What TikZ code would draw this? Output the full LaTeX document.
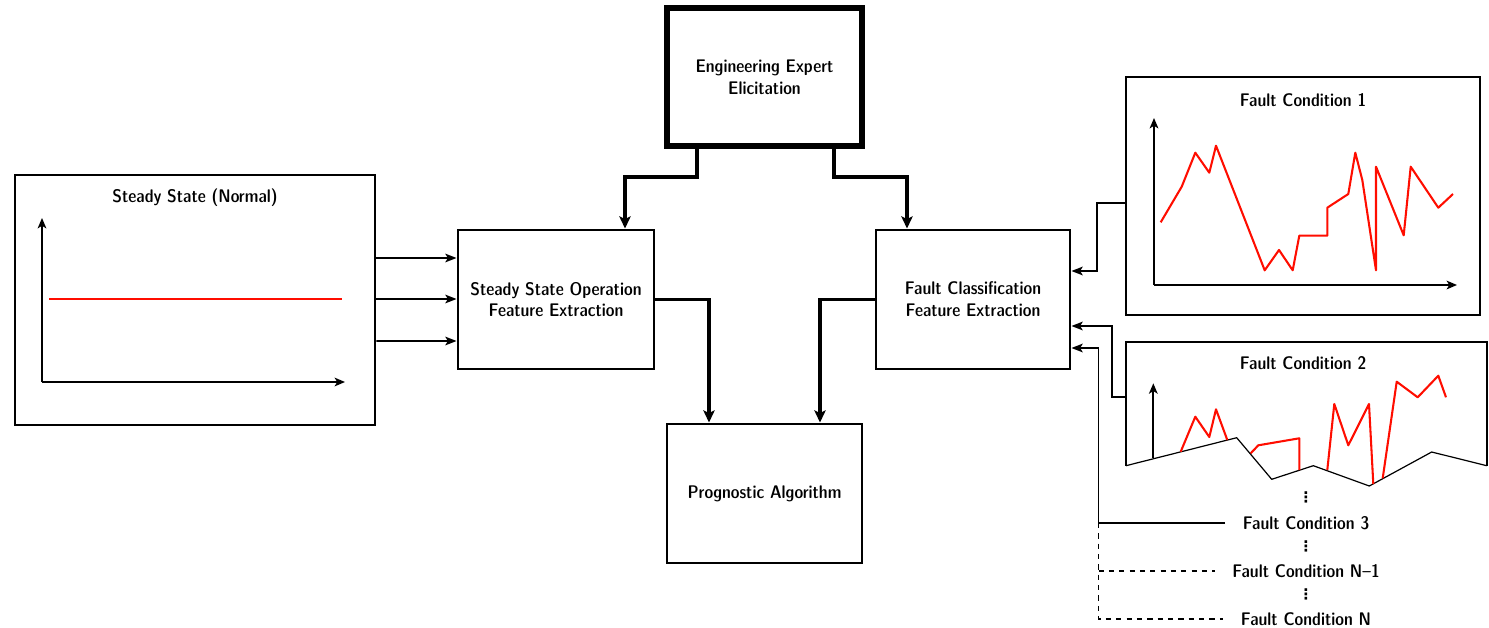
\documentclass[tikz,border=0pt]{standalone}
\usepackage{fontspec}
\usetikzlibrary{arrows.meta,calc}
\newfontfamily\symbolfont{DejaVu Sans Bold}
\newcommand\upx{0.58pt}
% vertical ellipsis as a single glyph
\newcommand\tightvdots{{\symbolfont\fontsize{8.5pt}{8.5pt}\selectfont ⋮}}
\begin{document}
\begin{tikzpicture}[x=\upx,y=-\upx,
  font=\sffamily\fontsize{10.6pt}{12.6pt}\fontseries{sbc}\selectfont,
  box/.style={draw,line width=1.7pt,inner sep=0pt,align=center},
  lbl/.style={inner sep=0pt,align=center},
  thinarr/.style={line width=1.1pt,-{Stealth[length=6.5pt,width=5pt,inset=1.5pt]}},
  bigarr/.style={line width=2.3pt,-{Stealth[length=7pt,width=6.5pt,inset=1.5pt]}},
  axis/.style={line width=1.1pt,-{Stealth[length=6pt,width=5pt,inset=1.5pt]}},
  signal/.style={red!90!orange,line width=1.2pt,line join=round},
  dotsnode/.style={inner sep=0pt},
  faultlbl/.style={inner xsep=10pt,inner ysep=0pt}]
\useasboundingbox (0,0) rectangle (1489,628);

% main blocks
\node[box,minimum width=360*\upx,minimum height=250*\upx] (steady) at (195,300) {};
\node[box,minimum width=196*\upx,minimum height=139*\upx] (sso) at (556,299.5)
  {Steady State Operation\\Feature Extraction};
\node[box,line width=3.5pt,minimum width=195*\upx,minimum height=138*\upx] (eng) at (764.5,77)
  {Engineering Expert\\Elicitation};
\node[box,minimum width=194*\upx,minimum height=139*\upx] (fc) at (973,299.5)
  {Fault Classification\\Feature Extraction};
\node[box,minimum width=195*\upx,minimum height=139*\upx] (prog) at (764.5,493.5)
  {Prognostic Algorithm};
\node[box,minimum width=354*\upx,minimum height=238*\upx] (fc1) at (1303,196) {};

% steady state plot
\node[lbl] (steadytitle) at (195,198) {Steady State (Normal)};
\coordinate (so) at (42,382);
\draw[axis] (so) -- (42,218);
\draw[axis] (so) -- (345,382);
\draw[signal] (49,299) -- (342,299);

% fault condition 1 plot
\node[lbl] (fc1title) at (1303,100) {Fault Condition 1};
\coordinate (fo) at (1154,285);
\draw[axis] (fo) -- (1154,118);
\draw[axis] (fo) -- (1457,285);
\draw[signal] (1160.7,222.3) -- (1181.7,186.7) -- (1195.3,152.7) -- (1209.3,172.7)
  -- (1216,145.7) -- (1264.7,270.3) -- (1279,250) -- (1292.7,270.3) -- (1299.3,235.7)
  -- (1327.3,235.7) -- (1327.3,207.7) -- (1348.3,194) -- (1355.3,152.7) -- (1362.3,180)
  -- (1376,270.3) -- (1376,166.7) -- (1403.7,235.3) -- (1410.7,166.7) -- (1438.3,207.7)
  -- (1453,194);

% fault condition 2: torn sheet
\draw[line width=1.1pt] (1126,465.7) -- (1126,341.7) -- (1486.7,341.7) -- (1486.7,465.7);
\draw[line width=0.7pt,line join=round] (1126,465.7) -- (1236.7,437.7) -- (1271.7,479.3)
  -- (1313.3,465.7) -- (1369.3,486) -- (1431.7,452) -- (1486.7,465.7);
\node[lbl] (fc2title) at (1303,363) {Fault Condition 2};
\draw[axis] (1153.3,458.3) -- (1153.3,383.3);
\draw[signal] (1180.7,451.7) -- (1195.3,416.7) -- (1209.3,437) -- (1216,409.3) -- (1227.3,440);
\draw[signal] (1250.7,453.3) -- (1258.3,445.3) -- (1299.3,438.3) -- (1299.3,470);
\draw[signal] (1327.3,470) -- (1334.3,404) -- (1348.3,445.3) -- (1369,404) -- (1373.3,484);
\draw[signal] (1382.7,478.3) -- (1396.7,381.7) -- (1417.7,397.3) -- (1438.3,375.7) -- (1446,397.3);
\coordinate (fc2in) at (1126,397);

% remaining fault conditions
\node[dotsnode] (d1) at (1306,497) {\tightvdots};
\node[faultlbl] (fc3) at (1306,523) {Fault Condition 3};
\node[dotsnode] (d2) at (1306,546) {\tightvdots};
\node[faultlbl] (fcn1) at (1306,571) {Fault Condition N--1};
\node[dotsnode] (d3) at (1306,594) {\tightvdots};
\node[faultlbl] (fcn) at (1306,619) {Fault Condition N};
\coordinate (bus) at (1098.5,523);

% connectors into the feature extraction blocks
\foreach \dy/\ey in {-42/-41.5,-1/-0.5,41/41.5}
  \draw[thinarr] ($(steady.east)+(0,\dy)$) -- ($(sso.west)+(0,\ey)$);
\draw[thinarr] ($(fc1.west)+(0,7)$) -- ++(-27.5,0) |- ($(fc.east)+(0,-28.5)$);
\draw[thinarr] (fc2in) -- ++(-14,0) |- ($(fc.east)+(0,26.5)$);
\draw[thinarr] (fc3.west) -- (bus) |- ($(fc.east)+(0,48.5)$);
\draw[line width=1.1pt,dashed] (bus) -- (bus |- fcn.west) -- (fcn.west);
\draw[line width=1.1pt,dashed] (bus |- fcn1.west) -- (fcn1.west);

% expert knowledge and features into the algorithm
\draw[bigarr] ($(eng.south)+(-67.5,0)$) -- ++(0,28) -| ($(sso.north)+(69,0)$);
\draw[bigarr] ($(eng.south)+(69.5,0)$) -- ++(0,28) -| ($(fc.north)+(-66,0)$);
\draw[bigarr] (sso.east) -| ($(prog.north)+(-55.5,0)$);
\draw[bigarr] (fc.west) -| ($(prog.north)+(55.5,0)$);
\end{tikzpicture}
\end{document}
